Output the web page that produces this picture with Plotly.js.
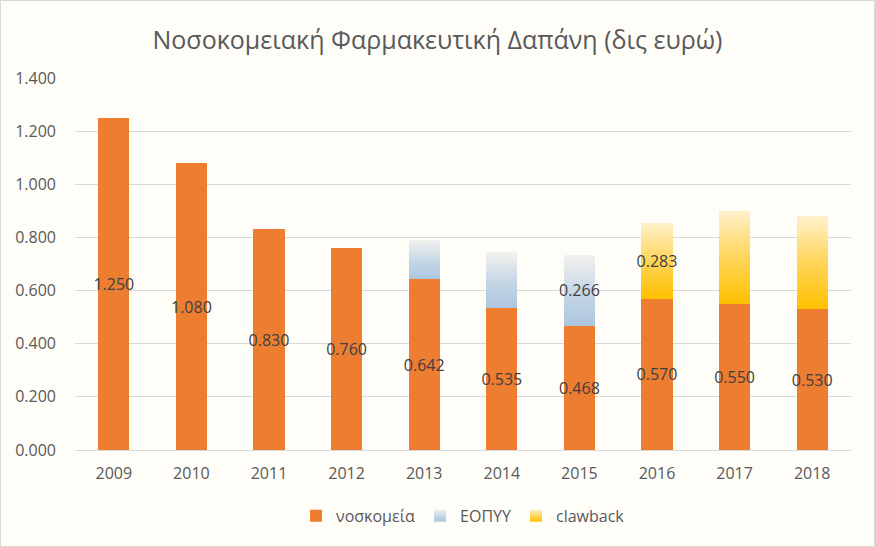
<!DOCTYPE html>
<html>
<head>
<meta charset="utf-8">
<script src="https://cdn.plot.ly/plotly-3.0.1.min.js"></script>
<style>
html,body{margin:0;padding:0;background:#fefdf8;}
#wrap{position:relative;width:875px;height:547px;}
#chart{width:875px;height:547px;}
#frame{position:absolute;left:0;top:0;width:873px;height:545px;border:1px solid #d9d9d9;pointer-events:none;}
</style>
</head>
<body>
<div id="wrap"><div id="chart"></div><div id="frame"></div></div>
<script>
const years = ['2009','2010','2011','2012','2013','2014','2015','2016','2017','2018'];
const hospitals = [1.250,1.080,0.830,0.760,0.642,0.535,0.468,0.570,0.550,0.530];
const eopyy = [0,0,0,0,0.150,0.210,0.266,0,0,0];
const clawback = [0,0,0,0,0,0,0,0.283,0.350,0.350];
const eopyyLabels = ['','','','','','','0.266','','',''];
const clawbackLabels = ['','','','','','','','0.283','',''];

const labelFont = {family:'Open Sans, sans-serif', size:16, color:'#404040'};
const common = {type:'bar', x:years, textposition:'inside', insidetextanchor:'middle',
  textangle:0, constraintext:'none', insidetextfont:labelFont, textfont:labelFont,
  hoverinfo:'skip', cliponaxis:false};

const traces = [
  Object.assign({}, common, {name:'νοσκομεία', y:hospitals, text:hospitals.map(v=>v.toFixed(3)),
    marker:{color:'#ed7d31'}}),
  Object.assign({}, common, {name:'ΕΟΠΥΥ', y:eopyy, text:eopyyLabels,
    marker:{color:'#c9d8e9'}}),
  Object.assign({}, common, {name:'clawback', y:clawback, text:clawbackLabels,
    marker:{color:'#ffd966'}})
];

const layout = {
  width:875, height:547,
  paper_bgcolor:'#fefdf8', plot_bgcolor:'#fefdf8',
  barmode:'stack', bargap:0.6,
  margin:{l:75, r:24, t:78, b:97},
  title:{text:'Νοσοκομειακή Φαρμακευτική Δαπάνη (δις ευρώ)', x:0.5, xanchor:'center', y:0.927, yanchor:'middle',
    font:{family:'Open Sans, sans-serif', size:25, color:'#595959'}},
  xaxis:{type:'category', showgrid:false, zeroline:false, showline:false, ticks:'', ticklabelstandoff:12,
    tickfont:{family:'Open Sans, sans-serif', size:16, color:'#595959'}},
  yaxis:{range:[0,1.4], dtick:0.2, tick0:0, tickformat:'.3f', showgrid:true, gridcolor:'#d9d9d9', gridwidth:1,
    zeroline:true, zerolinecolor:'#d9d9d9', showline:false, ticks:'', ticklabelstandoff:18,
    tickfont:{family:'Open Sans, sans-serif', size:16, color:'#595959'}},
  showlegend:true,
  legend:{orientation:'h', x:0.5, xanchor:'center', y:-0.177, yanchor:'middle', traceorder:'normal',
    font:{family:'Open Sans, sans-serif', size:16, color:'#595959'}, itemwidth:30}
};

Plotly.newPlot('chart', traces, layout, {displayModeBar:false, staticPlot:true}).then(function(gd){
  const svg = gd.querySelector('svg.main-svg');
  const ns = 'http://www.w3.org/2000/svg';
  let defs = svg.querySelector('defs');
  if(!defs){defs = document.createElementNS(ns,'defs'); svg.insertBefore(defs, svg.firstChild);}
  function grad(id, stops){
    const g = document.createElementNS(ns,'linearGradient');
    g.setAttribute('id', id); g.setAttribute('x1','0'); g.setAttribute('y1','0'); g.setAttribute('x2','0'); g.setAttribute('y2','1');
    stops.forEach(s=>{const st=document.createElementNS(ns,'stop'); st.setAttribute('offset',s[0]); st.setAttribute('stop-color',s[1]); g.appendChild(st);});
    defs.appendChild(g);
  }
  grad('gE', [['0','#f3f2ee'],['0.55','#c4d6e6'],['1','#adc6de']]);
  grad('gC', [['0','#fff1cc'],['0.5','#ffd559'],['1','#ffc000']]);
  const tr = gd.querySelectorAll('.barlayer .trace');
  function apply(el,id){ el.querySelectorAll('path').forEach(p=>{p.style.fill='url(#'+id+')';}); }
  if(tr[1]) apply(tr[1],'gE');
  if(tr[2]) apply(tr[2],'gC');
  const lg = gd.querySelectorAll('.legend .traces');
  if(lg[1]) lg[1].querySelectorAll('.legendpoints path').forEach(p=>{p.style.fill='url(#gE)';});
  if(lg[2]) lg[2].querySelectorAll('.legendpoints path').forEach(p=>{p.style.fill='url(#gC)';});
});
</script>
</body>
</html>
